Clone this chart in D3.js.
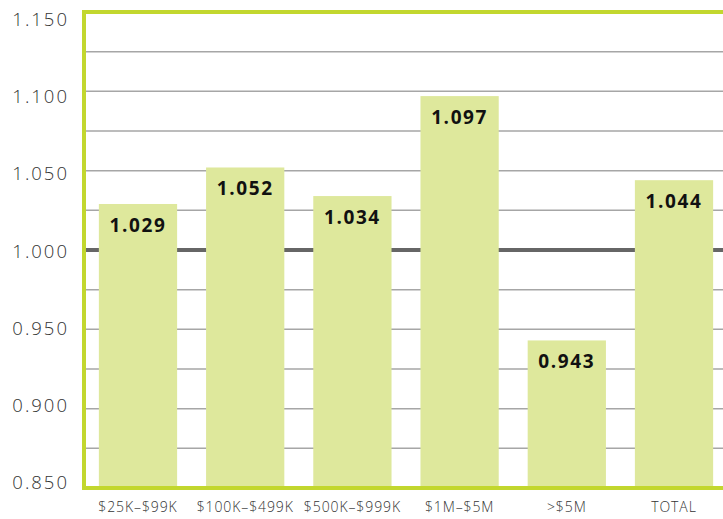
<!DOCTYPE html>
<html>
<head>
<meta charset="utf-8">
<script src="https://cdn.jsdelivr.net/npm/d3@7"></script>
<style>
  body { margin: 0; background: #fff; }
  svg { display: block; font-family: 'Open Sans', sans-serif; }
</style>
</head>
<body>
<div id="chart"></div>
<script>
// bracket labels and ratio values
const categories = ['$25K–$99K', '$100K–$499K', '$500K–$999K', '$1M–$5M', '>$5M', 'TOTAL']
const values = [1.029, 1.052, 1.034, 1.097, 0.943, 1.044]
const tickValues = [0.85, 0.9, 0.95, 1.0, 1.05, 1.1, 1.15]
const gridValues = d3.range(0, 13).map((i) => 0.85 + i * 0.025)

const width = 723
const height = 519
const margin = { top: 12, right: 0, bottom: 31, left: 86 }

const svg = d3.select('#chart').append('svg').attr('width', width).attr('height', height)

const y = d3.scaleLinear().domain([0.85, 1.15]).range([height - margin.bottom, margin.top])
// tick labels sit a bit inside the frame ends
const yLabel = d3.scaleLinear().domain([0.85, 1.15]).range([483, 19.5])

const x = d3
  .scaleBand()
  .domain(categories)
  .range([margin.left, 726])
  .paddingInner(0.27)
  .paddingOuter(0.12)

// grid lines behind the bars
svg
  .append('g')
  .selectAll('line')
  .data(gridValues.filter((d) => Math.abs(d - 1) > 1e-6 && d < 1.149 && d > 0.851))
  .join('line')
  .attr('x1', margin.left)
  .attr('x2', width)
  .attr('y1', (d) => y(d))
  .attr('y2', (d) => y(d))
  .attr('stroke', '#a6a6a6')
  .attr('stroke-width', 1.5)

// baseline at 1.000
svg
  .append('line')
  .attr('x1', margin.left)
  .attr('x2', width)
  .attr('y1', y(1))
  .attr('y2', y(1))
  .attr('stroke', '#666')
  .attr('stroke-width', 4)

svg
  .append('g')
  .selectAll('rect')
  .data(values)
  .join('rect')
  .attr('x', (d, i) => x(categories[i]))
  .attr('width', x.bandwidth())
  .attr('y', (d) => y(d))
  .attr('height', (d) => y(0.85) - y(d))
  .attr('fill', '#dee89c')

svg
  .append('g')
  .selectAll('text')
  .data(values)
  .join('text')
  .attr('x', (d, i) => x(categories[i]) + x.bandwidth() / 2)
  .attr('y', (d) => y(d) + 28)
  .attr('text-anchor', 'middle')
  .attr('font-size', 19)
  .attr('font-weight', 700)
  .attr('letter-spacing', 1.6)
  .attr('fill', '#111')
  .text((d) => d.toFixed(3))

// frame: left and top + bottom green lines
const frame = svg.append('g').attr('stroke', '#c2d72e').attr('stroke-width', 4)
frame.append('line').attr('x1', margin.left - 2).attr('x2', width).attr('y1', y(1.15)).attr('y2', y(1.15))
frame.append('line').attr('x1', margin.left - 2).attr('x2', width).attr('y1', y(0.85)).attr('y2', y(0.85))
frame.append('line').attr('x1', margin.left - 2).attr('x2', margin.left - 2).attr('y1', y(1.15) - 2).attr('y2', y(0.85) + 2)

// y axis labels
const yAxis = d3.axisLeft(yLabel).tickValues(tickValues).tickFormat(d3.format('.3f')).tickSize(0).tickPadding(0)
const ya = svg.append('g').attr('transform', `translate(69,0)`).call(yAxis)
ya.select('.domain').remove()
ya.selectAll('text')
  .attr('font-size', 18.5)
  .attr('font-weight', 300)
  .attr('letter-spacing', 2)
  .attr('fill', '#333')
  .attr('font-family', "'Open Sans', sans-serif")

// x axis labels
const xAxis = d3.axisBottom(x).tickSize(0).tickPadding(0)
const xa = svg.append('g').attr('transform', `translate(0,${height - 11})`).call(xAxis)
xa.select('.domain').remove()
xa.selectAll('text')
  .attr('font-size', 14)
  .attr('font-weight', 300)
  .attr('letter-spacing', 0.9)
  .attr('fill', '#333')
  .attr('font-family', "'Open Sans', sans-serif")
  .attr('dy', '0.32em')
</script>
</body>
</html>
